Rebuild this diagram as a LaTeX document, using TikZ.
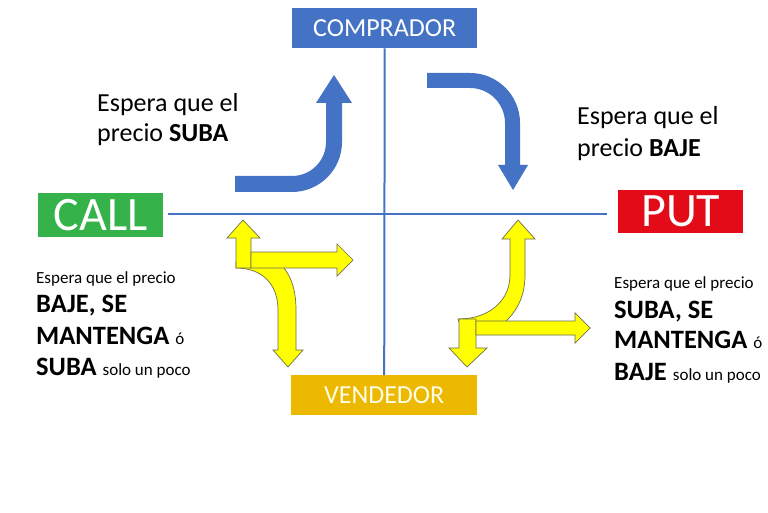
\documentclass[tikz,border=0pt]{standalone}
\usepackage{fontspec}
\setmainfont{Carlito}
\definecolor{cblue}{HTML}{4472C4}
\definecolor{cgreen}{HTML}{35B34A}
\definecolor{cred}{HTML}{E30B17}
\definecolor{cgold}{HTML}{EDB800}
\definecolor{cyel}{HTML}{FFFF00}
\definecolor{cedge}{HTML}{6E6E50}
\begin{document}
\begin{tikzpicture}[x=1pt,y=-1pt,
  box/.style={rectangle,inner sep=0pt,text=white,anchor=north west},
  axis/.style={draw=cblue,line width=2pt},
  bluearrow/.style={fill=cblue,draw=none},
  yelarrow/.style={fill=cyel,draw=cedge,line width=0.7pt,line join=miter},
  txt/.style={anchor=base west,inner sep=0pt,text=black}]
\useasboundingbox (0,0) rectangle (768,513);
\fill[white] (0,0) rectangle (768,513);
% boxes
\node[box,fill=cblue,minimum width=185pt,minimum height=40pt,font=\fontsize{26}{28}\selectfont] (comp) at (292,8) {COMPRADOR};
\node[box,fill=cgold,minimum width=186pt,minimum height=40pt,font=\fontsize{26}{28}\selectfont,text=white!92!yellow] (vend) at (291,375) {VENDEDOR};
\node[box,fill=cgreen,minimum width=125pt,minimum height=44pt,font=\fontsize{48}{50}\selectfont] (call) at (38,193) {CALL};
\node[box,fill=cred,minimum width=125pt,minimum height=43pt,font=\fontsize{48}{50}\selectfont] (put) at (618,190) {PUT};
% axes
\coordinate (hl) at (168,214);
\coordinate (hr) at (607,214);
\draw[axis] (comp.south) -- (vend.north);
\draw[axis] (hl) -- (hr);
% blue arrows
\path[bluearrow] (235,176) -- (292,176) .. controls (310.8,176) and (326,160.8) .. (326,142)
  -- (326,103) -- (316,103) -- (334,75) -- (352,103) -- (342,103) -- (342,142)
  .. controls (342,169.6) and (319.6,192) .. (292,192) -- (235,192) -- cycle;
\path[bluearrow] (427,73) -- (470,73) .. controls (497.6,73) and (520,95.4) .. (520,123)
  -- (520,165) -- (528,165) -- (513,190) -- (498,165) -- (505,165) -- (505,123)
  .. controls (505,103.7) and (489.3,88) .. (470,88) -- (427,88) -- cycle;
% yellow arrows left
\path[yelarrow] (236,268) .. controls (262,268) and (278,284) .. (278,310) -- (278,350)
  -- (273,350) -- (288,367) -- (303,350) -- (296,350) -- (296,310)
  .. controls (296,288) and (290,272) .. (278,262) -- (236,262) -- cycle;
\path[yelarrow] (236,268) -- (236,238) -- (227,238) -- (243,220) -- (260,238) -- (251,238) -- (251,268) -- cycle;
\path[yelarrow] (251,252) -- (337,252) -- (337,244) -- (353,260) -- (337,276) -- (337,268) -- (251,268) -- cycle;
% yellow arrows right
\path[yelarrow] (458,319) .. controls (490,319) and (510,300) .. (510,275) -- (510,239)
  -- (502,239) -- (518,220) -- (535,239) -- (525,239) -- (525,275)
  .. controls (525,295) and (518,310) .. (505,322) -- (459,322) -- cycle;
\path[yelarrow] (459,319) -- (476,319) -- (476,348) -- (487,348) -- (467,367) -- (449,348) -- (459,348) -- cycle;
\path[yelarrow] (476,321) -- (575,321) -- (575,313) -- (590,328) -- (575,343) -- (575,335) -- (476,335) -- cycle;
% texts
\node[txt,font=\fontsize{26}{28}\selectfont] (t1) at (97,112) {Espera que el};
\node[txt,font=\fontsize{26}{28}\selectfont] (t2) at (97,142) {precio \textbf{SUBA}};
\node[txt,font=\fontsize{26}{28}\selectfont] (t3) at (577,125) {Espera que el};
\node[txt,font=\fontsize{26}{28}\selectfont] (t4) at (577,157) {precio \textbf{BAJE}};
\node[txt,font=\fontsize{17}{20}\selectfont] (l1) at (36,283) {Espera que el precio};
\node[txt,font=\fontsize{26.5}{28}\selectfont\bfseries] (l2) at (36,312) {BAJE, SE};
\node[txt,font=\fontsize{26.5}{28}\selectfont] (l3) at (36,344) {\textbf{MANTENGA} {\fontsize{17}{20}\selectfont ó}};
\node[txt,font=\fontsize{26.5}{28}\selectfont] (l4) at (36,375) {\textbf{SUBA} {\fontsize{17}{20}\selectfont solo un poco}};
\node[txt,font=\fontsize{17}{20}\selectfont] (r1) at (614,288) {Espera que el precio};
\node[txt,font=\fontsize{26.5}{28}\selectfont\bfseries] (r2) at (614,318) {SUBA, SE};
\node[txt,font=\fontsize{26.5}{28}\selectfont] (r3) at (614,348) {\textbf{MANTENGA} {\fontsize{17}{20}\selectfont ó}};
\node[txt,font=\fontsize{26.5}{28}\selectfont] (r4) at (614,380) {\textbf{BAJE} {\fontsize{17}{20}\selectfont solo un poco}};
\end{tikzpicture}
\end{document}
